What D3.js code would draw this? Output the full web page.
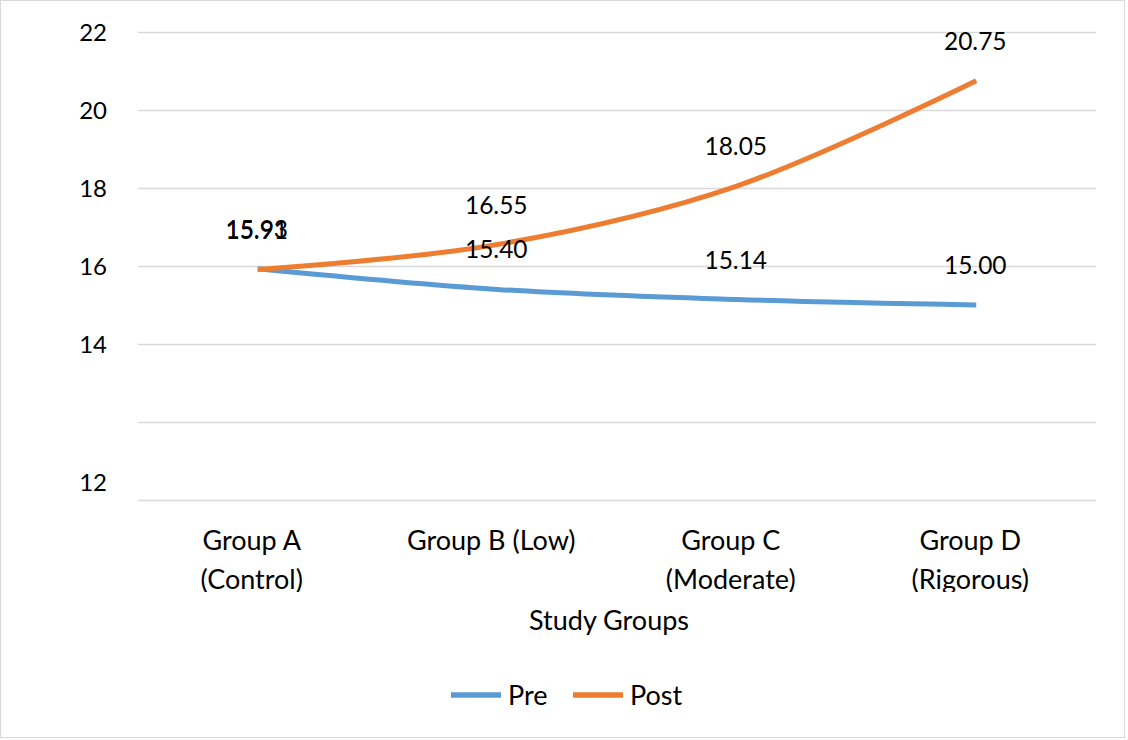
<!DOCTYPE html>
<html>
<head>
<meta charset="utf-8">
<script src="https://cdn.jsdelivr.net/npm/d3@7"></script>
<style>
  html, body { margin: 0; padding: 0; background: #fff; }
  svg { display: block; font-family: Lato, "Open Sans", sans-serif; }
</style>
</head>
<body>
<svg id="chart" width="1128" height="740"></svg>
<script>
// ---- data ----
const categories = [["Group A", "(Control)"], ["Group B (Low)"], ["Group C", "(Moderate)"], ["Group D", "(Rigorous)"]];
const preValues = [15.93, 15.40, 15.14, 15.00];
const postValues = [15.91, 16.55, 18.05, 20.75];
const preLabels = ["15.93", "15.40", "15.14", "15.00"];
const postLabels = ["15.91", "16.55", "18.05", "20.75"];
const yTickValues = [10, 12, 14, 16, 18, 20, 22];
const yTickLabels = ["12", "", "14", "16", "18", "20", "22"];
const seriesNames = ["Pre", "Post"];
const xTitle = "Study Groups";

const colors = { Pre: "#5B9BD5", Post: "#ED7D31" };

const svg = d3.select("#chart");
const W = 1128, H = 740;

// outer border
svg.append("rect").attr("x", 0.5).attr("y", 0.5).attr("width", 1124).attr("height", 737)
  .attr("fill", "#fff").attr("stroke", "#d9d9d9").attr("stroke-width", 1);

const plot = { left: 138, right: 1096, top: 32, bottom: 500 };

const x = d3.scaleBand().domain(d3.range(categories.length))
  .range([plot.left, plot.right]).paddingInner(0).paddingOuter(0);
const y = d3.scaleLinear().domain([10, 22]).range([plot.bottom, plot.top]);

// y axis with gridlines
const yAxis = d3.axisLeft(y).tickValues(yTickValues)
  .tickSize(-(plot.right - plot.left)).tickPadding(31)
  .tickFormat((d, i) => yTickLabels[i]);
const gy = svg.append("g").attr("transform", `translate(${plot.left},0)`).call(yAxis);
gy.select(".domain").remove();
gy.selectAll(".tick line").attr("stroke", "#d9d9d9").attr("stroke-width", 1.3);
gy.selectAll(".tick text").attr("font-size", 24).attr("fill", "#000")
  .attr("font-family", "Lato, sans-serif")
  .attr("dy", (d, i) => i === 0 ? "-0.38em" : "0.36em");

// category labels (second line is cut at the bottom, as in the original)
svg.append("clipPath").attr("id", "catclip")
  .append("rect").attr("x", 0).attr("y", 500).attr("width", W).attr("height", 92);
const catG = svg.append("g").attr("clip-path", "url(#catclip)");
categories.forEach((lines, i) => {
  const cx = x(i) + x.bandwidth() / 2 - 6;
  const t = catG.append("text")
    .attr("x", cx).attr("y", 550)
    .attr("text-anchor", "middle")
    .attr("font-size", 27).attr("fill", "#000");
  lines.forEach((ln, j) => {
    t.append("tspan").attr("x", cx).attr("dy", j === 0 ? 0 : 39).text(ln);
  });
});

// x axis title
svg.append("text").attr("x", 609).attr("y", 630).attr("text-anchor", "middle")
  .attr("font-size", 27).attr("fill", "#000").text(xTitle);

// lines
const line = d3.line()
  .x((d, i) => x(i) + x.bandwidth() / 2)
  .y(d => y(d))
  .curve(d3.curveCardinal.tension(0));

const series = [
  { name: "Pre", values: preValues, labels: preLabels },
  { name: "Post", values: postValues, labels: postLabels }
];

series.forEach(s => {
  svg.append("path").datum(s.values)
    .attr("d", line)
    .attr("fill", "none")
    .attr("stroke", colors[s.name])
    .attr("stroke-width", 5)
    .attr("stroke-linejoin", "round")
    .attr("stroke-linecap", "butt");
});

series.forEach(s => {
  svg.append("g").selectAll("text").data(s.values).join("text")
    .attr("x", (d, i) => x(i) + x.bandwidth() / 2 - 1)
    .attr("y", d => y(d) - 31)
    .attr("text-anchor", "middle")
    .attr("font-size", 24.5).attr("fill", "#000")
    .text((d, i) => s.labels[i]);
});

// legend
const legend = svg.append("g");
const legendItems = [
  { name: seriesNames[0], x0: 451, tx: 508 },
  { name: seriesNames[1], x0: 573, tx: 630 }
];
legendItems.forEach(it => {
  legend.append("line").attr("x1", it.x0).attr("x2", it.x0 + 50)
    .attr("y1", 695).attr("y2", 695)
    .attr("stroke", colors[it.name]).attr("stroke-width", 5.5);
  legend.append("text").attr("x", it.tx).attr("y", 705)
    .attr("font-size", 27).attr("fill", "#000").text(it.name);
});
</script>
</body>
</html>
